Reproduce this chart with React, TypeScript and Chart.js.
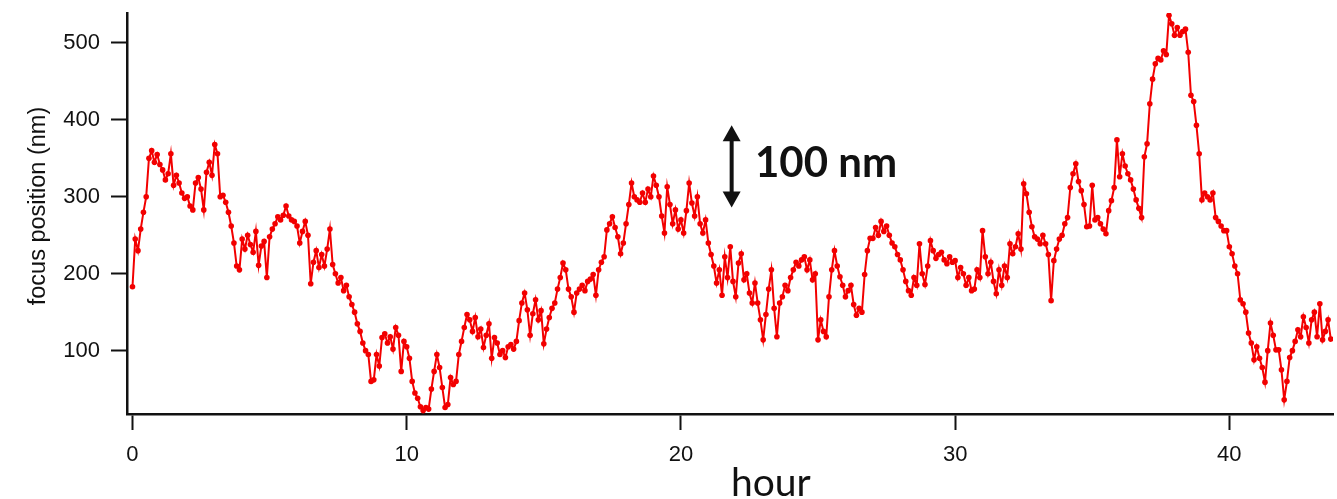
import React, { useEffect, useRef } from 'react';
import { Chart, registerables } from 'chart.js';

Chart.register(...registerables);

const HOUR_TICKS = [0, 10, 20, 30, 40];
const NM_TICKS = [100, 200, 300, 400, 500];
const SAMPLE_STEP_H = 0.1;
const X_TITLE = 'hour';
const Y_TITLE = 'focus position (nm)';
const SCALE_BAR_LABEL = '100 nm';

const focusHours0to9 = [
  183, 245, 230, 258, 280, 300, 350, 360, 345, 355,
  342, 335, 322, 330, 356, 315, 328, 318, 305, 298,
  300, 288, 283, 318, 325, 310, 283, 332, 345, 328,
  368, 356, 300, 302, 293, 280, 262, 240, 210, 205,
  245, 232, 250, 238, 228, 255, 211, 236, 242, 195,
  248, 258, 265, 274, 270, 276, 288, 275, 270, 268,
  262, 240, 255, 268, 250, 187, 215, 230, 208, 225,
  210, 232, 258, 212, 200, 188, 195, 178, 185, 170,
  160, 150, 135, 125, 110, 100, 95, 60, 62, 95,
  80, 117, 122, 110, 118, 102, 130, 120, 73, 112,
];
const focusHours10to19 = [
  105, 90, 60, 45, 38, 27, 22, 26, 24, 50,
  73, 95, 78, 52, 26, 30, 65, 56, 60, 95,
  112, 130, 147, 140, 125, 143, 118, 128, 104, 120,
  135, 90, 117, 110, 95, 100, 91, 105, 108, 102,
  112, 139, 162, 175, 153, 120, 148, 166, 140, 152,
  109, 128, 143, 155, 162, 180, 195, 214, 205, 180,
  170, 150, 175, 180, 185, 178, 190, 193, 199, 172,
  205, 215, 222, 257, 265, 274, 260, 248, 226, 240,
  265, 290, 318, 300, 296, 293, 305, 293, 310, 300,
  327, 315, 300, 275, 253, 313, 290, 265, 283, 258,
];
const focusHours20to29 = [
  270, 253, 282, 318, 292, 275, 300, 265, 253, 270,
  240, 225, 210, 188, 205, 172, 222, 195, 235, 190,
  170, 214, 226, 192, 200, 175, 162, 188, 162, 140,
  114, 147, 180, 205, 155, 118, 162, 170, 185, 178,
  195, 205, 215, 210, 218, 222, 205, 218, 192, 200,
  114, 140, 125, 118, 170, 205, 230, 210, 196, 185,
  170, 178, 185, 160, 146, 155, 150, 199, 230, 246,
  246, 260, 250, 268, 255, 262, 250, 240, 235, 225,
  218, 205, 190, 178, 172, 195, 185, 239, 200, 186,
  210, 243, 230, 220, 225, 228, 218, 213, 222, 215,
];
const focusHours30to39 = [
  217, 195, 208, 200, 185, 195, 178, 180, 205, 195,
  256, 222, 200, 215, 190, 174, 205, 185, 210, 195,
  239, 226, 235, 252, 232, 317, 304, 280, 261, 248,
  245, 239, 250, 239, 225, 165, 217, 232, 245, 250,
  265, 273, 312, 330, 343, 320, 308, 290, 261, 262,
  315, 270, 273, 265, 258, 252, 282, 295, 312, 374,
  326, 356, 340, 330, 322, 310, 296, 285, 273, 352,
  369, 421, 453, 473, 480, 478, 490, 485, 536, 525,
  510, 520, 510, 515, 518, 488, 432, 424, 393, 356,
  296, 305, 300, 296, 305, 273, 268, 262, 256, 256,
];
const focusHours40to43 = [
  235, 226, 210, 200, 166, 161, 150, 123, 110, 88,
  105, 90, 78, 59, 100, 136, 120, 101, 101, 75,
  36, 60, 91, 100, 112, 127, 118, 144, 130, 110,
  140, 150, 118, 161, 114, 125, 140, 115,
];

const focusValues = [
  ...focusHours0to9,
  ...focusHours10to19,
  ...focusHours20to29,
  ...focusHours30to39,
  ...focusHours40to43,
];

// scale-bar annotation (data coordinates)
const SCALE_BAR_HOUR = 21.85;
const SCALE_BAR_FROM = 286;
const SCALE_BAR_TO = 393;
const SCALE_LABEL_HOUR = 22.7;
const SCALE_LABEL_NM = 344;
const X_TITLE_HOUR = 23.28;

const annotationPlugin = {
  id: 'annotations',
  afterDraw(chart: any) {
    const { ctx } = chart;
    const xs = chart.scales.x;
    const ys = chart.scales.y;
    ctx.save();
    // double arrow
    const ax = xs.getPixelForValue(SCALE_BAR_HOUR);
    const top = ys.getPixelForValue(SCALE_BAR_TO);
    const bot = ys.getPixelForValue(SCALE_BAR_FROM);
    const headH = 16;
    const headW = 9;
    ctx.fillStyle = '#111';
    ctx.strokeStyle = '#111';
    ctx.lineWidth = 4;
    ctx.beginPath();
    ctx.moveTo(ax, top + headH - 2);
    ctx.lineTo(ax, bot - headH + 2);
    ctx.stroke();
    ctx.beginPath();
    ctx.moveTo(ax, top);
    ctx.lineTo(ax - headW, top + headH);
    ctx.lineTo(ax + headW, top + headH);
    ctx.closePath();
    ctx.fill();
    ctx.beginPath();
    ctx.moveTo(ax, bot);
    ctx.lineTo(ax - headW, bot - headH);
    ctx.lineTo(ax + headW, bot - headH);
    ctx.closePath();
    ctx.fill();
    // label
    ctx.font = 'bold 42px Lato, "Open Sans", sans-serif';
    ctx.textAlign = 'left';
    ctx.textBaseline = 'middle';
    ctx.fillText(SCALE_BAR_LABEL, xs.getPixelForValue(SCALE_LABEL_HOUR), ys.getPixelForValue(SCALE_LABEL_NM));
    // x title
    ctx.font = '39px Lato, "Open Sans", sans-serif';
    ctx.textAlign = 'center';
    ctx.textBaseline = 'alphabetic';
    ctx.fillStyle = '#111';
    ctx.fillText(X_TITLE, xs.getPixelForValue(X_TITLE_HOUR), chart.height - 3);
    // y title
    ctx.font = '23.5px "Liberation Sans", Arial, sans-serif';
    ctx.translate(39, 206);
    ctx.rotate(-Math.PI / 2);
    ctx.textAlign = 'center';
    ctx.textBaseline = 'middle';
    ctx.fillText(Y_TITLE, 0, 0);
    ctx.restore();
  },
};

export default function App() {
  const canvasRef = useRef<HTMLCanvasElement | null>(null);

  useEffect(() => {
    const canvas = canvasRef.current;
    if (!canvas) return;
    const points = focusValues.map((v, i) => ({ x: Math.round(i * SAMPLE_STEP_H * 10) / 10, y: v }));
    const tickFont = { family: '"Liberation Sans", Arial, sans-serif', size: 22 };
    const chart = new Chart(canvas, {
      type: 'line',
      data: {
        datasets: [
          {
            data: points,
            borderColor: '#f20000',
            borderWidth: 2,
            pointRadius: 2.8,
            pointBackgroundColor: '#f20000',
            pointBorderWidth: 0,
            tension: 0,
          },
        ],
      },
      options: {
        animation: false,
        responsive: false,
        devicePixelRatio: 1,
        layout: { padding: { top: 13, left: 0, right: 0, bottom: 0 } },
        plugins: { legend: { display: false }, tooltip: { enabled: false } },
        scales: {
          x: {
            type: 'linear',
            min: -0.2,
            max: 43.78,
            afterBuildTicks: (s: any) => {
              s.ticks = HOUR_TICKS.map((v) => ({ value: v }));
            },
            afterFit: (s: any) => {
              s.height = 85;
              s.paddingLeft = 0;
              s.paddingRight = 0;
            },
            grid: { display: true, drawOnChartArea: false, drawTicks: true, tickLength: 16, tickWidth: 2, tickColor: '#111' },
            border: { display: true, color: '#111', width: 2.5 },
            ticks: { font: tickFont, color: '#111', padding: 12, maxRotation: 0 },
          },
          y: {
            type: 'linear',
            min: 17.6,
            max: 539,
            afterBuildTicks: (s: any) => {
              s.ticks = NM_TICKS.map((v) => ({ value: v }));
            },
            afterFit: (s: any) => {
              s.width = 127;
              s.paddingTop = 0;
              s.paddingBottom = 0;
            },
            grid: { display: true, drawOnChartArea: false, drawTicks: true, tickLength: 16, tickWidth: 2, tickColor: '#111' },
            border: { display: true, color: '#111', width: 2.5 },
            ticks: { font: tickFont, color: '#111', padding: 11 },
          },
        },
      },
      plugins: [annotationPlugin],
    });
    return () => chart.destroy();
  }, []);

  return (
    <div style={{ position: 'fixed', left: 0, top: 0, width: 1337, height: 499, background: '#fff' }}>
      <canvas ref={canvasRef} width={1337} height={499} style={{ display: 'block' }} />
    </div>
  );
}
